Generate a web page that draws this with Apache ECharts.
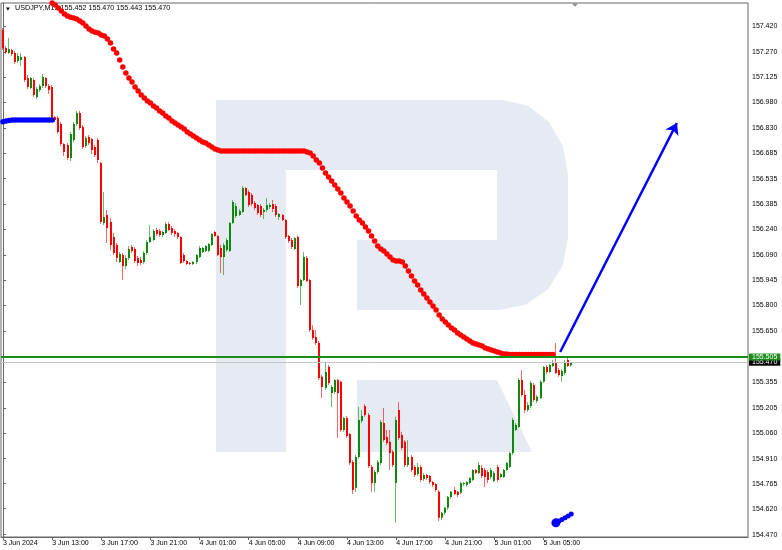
<!DOCTYPE html>
<html>
<head>
<meta charset="utf-8">
<script src="https://cdn.jsdelivr.net/npm/echarts@6.0.0/dist/echarts.min.js"></script>
<style>
html,body{margin:0;padding:0;background:#fff;}
#chart{width:782px;height:550px;}
</style>
</head>
<body>
<div id="chart"></div>
<script>
// ---------- data ----------
const symbolName = 'USDJPY,M15';

// x-axis tick bars (every 16 bars of M15 = 4 hours) and their labels
const xTickBars = [0, 16, 32, 48, 64, 80, 96, 112, 128, 144, 160, 176];
const xTickLabels = ['3 Jun 2024', '3 Jun 13:00', '3 Jun 17:00', '3 Jun 21:00', '4 Jun 01:00', '4 Jun 05:00',
                     '4 Jun 09:00', '4 Jun 13:00', '4 Jun 17:00', '4 Jun 21:00', '5 Jun 01:00', '5 Jun 05:00'];

// price scale tick labels
const yTickValues = [157.420, 157.270, 157.125, 156.980, 156.830, 156.685, 156.535, 156.385, 156.240, 156.090,
                     155.945, 155.800, 155.650, 155.355, 155.205, 155.060, 154.910, 154.765, 154.620, 154.470];

const barOpen = [
157.397,157.293,157.264,157.281,157.264,157.217,157.223,157.240,157.119,157.061,
157.107,157.008,157.049,157.072,157.119,157.072,157.066,156.892,156.887,156.852,
156.736,156.730,156.655,156.759,156.852,156.916,156.834,156.724,156.776,156.765,
156.718,156.759,156.626,156.278,156.324,156.283,156.196,156.150,156.051,156.092,
156.028,156.075,156.139,156.127,156.075,156.063,156.051,156.104,156.167,156.179,
156.237,156.231,156.208,156.220,156.272,156.249,156.231,156.220,156.196,156.092,
156.057,156.046,156.040,156.051,156.080,156.109,156.115,156.115,156.150,156.225,
156.202,156.133,156.080,156.121,156.115,156.278,156.318,156.324,156.341,156.481,
156.457,156.440,156.394,156.382,156.376,156.341,156.353,156.370,156.388,156.376,
156.312,156.324,156.295,156.202,156.179,156.127,156.196,155.912,155.947,156.075,
155.947,155.657,155.616,155.582,155.385,155.321,155.442,155.292,155.297,155.367,
155.356,155.077,155.147,155.054,154.891,154.741,154.920,155.129,155.216,155.164,
154.862,154.770,154.833,154.886,155.118,155.036,155.008,154.950,154.770,155.193,
155.048,155.008,154.874,154.920,154.862,154.822,154.862,154.793,154.816,154.810,
154.775,154.764,154.718,154.567,154.596,154.625,154.688,154.729,154.718,154.712,
154.764,154.758,154.770,154.787,154.845,154.828,154.857,154.845,154.833,154.804,
154.781,154.862,154.804,154.804,154.845,154.862,154.944,155.077,155.094,155.367,
155.280,155.193,155.216,155.338,155.245,155.263,155.356,155.442,155.413,155.448,
155.471,155.425,155.390,155.408,155.483,155.452];

const barHigh = [
157.409,157.304,157.351,157.287,157.275,157.264,157.264,157.246,157.136,157.124,
157.119,157.066,157.084,157.142,157.124,157.084,157.078,156.898,156.898,156.863,
156.742,156.742,156.805,156.863,156.927,156.927,156.846,156.782,156.788,156.771,
156.730,156.771,156.631,156.457,156.353,156.307,156.220,156.162,156.109,156.104,
156.092,156.144,156.150,156.139,156.086,156.080,156.115,156.179,156.266,156.243,
156.249,156.243,156.231,156.283,156.283,156.260,156.243,156.225,156.202,156.104,
156.063,156.051,156.057,156.098,156.144,156.139,156.150,156.162,156.220,156.231,
156.208,156.150,156.162,156.191,156.283,156.411,156.394,156.359,156.492,156.486,
156.469,156.452,156.405,156.388,156.388,156.365,156.423,156.394,156.411,156.388,
156.336,156.330,156.301,156.208,156.191,156.196,156.202,155.953,156.109,156.086,
155.953,155.686,155.657,155.593,155.396,155.466,155.454,155.338,155.373,155.373,
155.362,155.153,155.158,155.060,154.903,154.932,155.210,155.193,155.228,155.176,
154.874,154.845,154.903,155.135,155.205,155.077,155.077,154.961,155.153,155.239,
155.066,155.019,155.019,154.932,154.874,154.886,154.874,154.828,154.822,154.816,
154.781,154.770,154.729,154.601,154.630,154.694,154.723,154.746,154.723,154.775,
154.775,154.781,154.804,154.851,154.851,154.891,154.874,154.857,154.845,154.857,
154.839,154.874,154.828,154.851,154.891,154.950,155.147,155.118,155.379,155.425,
155.309,155.239,155.362,155.350,155.280,155.367,155.448,155.454,155.460,155.483,
155.582,155.437,155.431,155.483,155.506,155.470];

const barLow = [
157.281,157.258,157.258,157.246,157.200,157.206,157.188,157.095,157.055,157.055,
157.008,156.997,157.037,157.061,157.061,157.026,156.875,156.863,156.794,156.724,
156.666,156.643,156.637,156.747,156.840,156.817,156.707,156.713,156.730,156.678,
156.660,156.626,156.272,156.266,156.162,156.121,156.092,156.051,156.046,155.947,
156.011,156.063,156.104,156.046,156.028,156.034,156.040,156.092,156.162,156.173,
156.202,156.196,156.196,156.214,156.231,156.208,156.196,156.185,156.040,156.046,
156.034,156.034,156.034,156.040,156.075,156.104,156.109,156.109,156.144,156.196,
156.086,155.988,155.976,156.109,156.109,156.272,156.307,156.318,156.336,156.434,
156.370,156.376,156.353,156.324,156.312,156.301,156.341,156.359,156.341,156.312,
156.295,156.289,156.185,156.162,156.127,156.121,155.901,155.802,155.941,155.935,
155.645,155.599,155.570,155.367,155.263,155.309,155.338,155.210,155.286,155.031,
155.066,155.066,155.031,154.874,154.706,154.718,154.909,155.118,155.153,154.857,
154.718,154.718,154.822,154.874,155.008,154.990,154.845,154.862,154.538,155.019,
154.961,154.862,154.862,154.833,154.804,154.810,154.775,154.781,154.787,154.764,
154.746,154.718,154.549,154.555,154.584,154.613,154.677,154.700,154.688,154.706,
154.752,154.746,154.764,154.781,154.822,154.822,154.799,154.746,154.770,154.793,
154.775,154.775,154.799,154.799,154.839,154.857,154.932,155.071,155.089,155.269,
155.176,155.181,155.205,155.239,155.234,155.257,155.350,155.402,155.408,155.442,
155.402,155.385,155.356,155.396,155.442,155.443];

const barClose = [
157.293,157.269,157.287,157.258,157.211,157.246,157.240,157.107,157.066,157.119,
157.020,157.055,157.072,157.124,157.072,157.049,156.887,156.875,156.805,156.736,
156.689,156.655,156.794,156.852,156.916,156.829,156.718,156.771,156.742,156.701,
156.672,156.643,156.283,156.312,156.249,156.150,156.104,156.075,156.098,156.028,
156.075,156.127,156.115,156.057,156.046,156.046,156.104,156.167,156.196,156.231,
156.214,156.208,156.225,156.272,156.237,156.220,156.214,156.196,156.046,156.057,
156.040,156.040,156.051,156.092,156.133,156.133,156.144,156.156,156.214,156.202,
156.092,156.080,156.150,156.179,156.278,156.399,156.376,156.347,156.481,156.440,
156.382,156.388,156.365,156.336,156.324,156.353,156.382,156.382,156.359,156.324,
156.330,156.295,156.196,156.173,156.139,156.191,155.912,155.947,156.080,155.941,
155.657,155.611,155.582,155.379,155.326,155.413,155.350,155.326,155.367,155.292,
155.077,155.147,155.042,154.886,154.729,154.920,155.135,155.158,155.164,154.868,
154.770,154.833,154.891,155.123,155.019,155.002,154.944,154.874,155.135,155.031,
154.973,154.874,154.920,154.845,154.816,154.862,154.787,154.816,154.799,154.775,
154.758,154.729,154.567,154.596,154.625,154.688,154.718,154.706,154.700,154.770,
154.770,154.775,154.799,154.845,154.828,154.874,154.810,154.804,154.787,154.845,
154.828,154.787,154.822,154.845,154.886,154.944,155.135,155.106,155.367,155.280,
155.193,155.222,155.350,155.251,155.269,155.356,155.442,155.413,155.454,155.471,
155.408,155.396,155.419,155.471,155.448,155.470];

// Parabolic SAR dots
const sarBlueAFirstBar = 0;
const sarBlueA = [156.865, 156.870, 156.873, 156.875, 156.875, 156.875, 156.875, 156.875,
                  156.875, 156.875, 156.875, 156.875, 156.875, 156.875, 156.875, 156.875, 156.875];
const sarRedFirstBar = 16;
const sarRed = [
157.554,157.542,157.525,157.507,157.490,157.478,157.472,157.467,157.461,157.449,
157.438,157.420,157.403,157.391,157.385,157.380,157.368,157.362,157.345,157.322,
157.287,157.264,157.223,157.182,157.148,157.119,157.095,157.066,157.043,157.020,
157.003,156.985,156.974,156.956,156.945,156.927,156.916,156.898,156.887,156.869,
156.858,156.846,156.834,156.823,156.805,156.794,156.782,156.771,156.759,156.747,
156.742,156.730,156.718,156.707,156.701,
156.695,156.695,156.695,156.695,156.695,156.695,156.695,156.695,156.695,156.695,
156.695,156.695,156.695,156.695,156.695,156.695,156.695,156.695,156.695,156.695,
156.695,156.695,156.695,156.695,156.695,156.695,156.695,156.695,
156.689,156.684,156.666,156.643,156.626,156.597,156.568,156.545,156.521,156.498,
156.475,156.452,156.423,156.399,156.376,156.347,156.318,156.295,156.278,156.255,
156.231,156.202,156.173,156.144,156.127,156.115,156.098,156.080,156.063,156.057,
156.057,156.051,156.028,155.999,155.970,155.941,155.918,155.889,155.866,155.843,
155.820,155.796,155.773,155.744,155.721,155.703,155.686,155.669,155.657,155.640,
155.628,155.617,155.605,155.593,155.582,155.576,155.570,155.564,155.553,155.547,
155.541,155.535,155.529,155.524,155.518,155.518,
155.515,155.515,155.515,155.515,155.515,155.515,155.515,155.515,155.515,155.515,
155.515,155.515,155.515,155.515,155.515];
const sarBlueBFirstBar = 180;
const sarBlueB = [154.538, 154.549, 154.558, 154.567, 154.578, 154.590];

// horizontal levels and the forecast arrow (bar index, price)
const levelPrice = 155.505;
const bidPrice = 155.470;
const arrowFrom = [181.4, 155.529];
const arrowTo = [219.4, 156.858];

// ---------- chart ----------
const FONT = '"Liberation Sans", Arial, sans-serif';
const BULL = '#0b8a0b';
const BEAR = '#ff0000';
const WATERMARK = '#e5eaf3';

const candleData = barOpen.map((o, i) => [i, o, barHigh[i], barLow[i], barClose[i]]);
const redData = sarRed.map((v, k) => [sarRedFirstBar + k, v]);
const blueAData = sarBlueA.map((v, k) => [sarBlueAFirstBar + k, v]);
const blueBData = sarBlueB.map((v, k) => [sarBlueBFirstBar + k, v]);

const xLabelMap = {};
xTickBars.forEach((b, k) => { xLabelMap[b] = xTickLabels[k]; });

const last = barOpen.length - 1;
const header = symbolName + ' ' + barOpen[last].toFixed(3) + ' ' + barHigh[last].toFixed(3) + ' ' +
               barLow[last].toFixed(3) + ' ' + barClose[last].toFixed(3);

function renderCandle(params, api) {
  const i = api.value(0);
  const o = api.value(1), h = api.value(2), l = api.value(3), c = api.value(4);
  const pO = api.coord([i, o]);
  const pC = api.coord([i, c]);
  const pH = api.coord([i, h]);
  const pL = api.coord([i, l]);
  const cx = Math.round(pO[0]);
  const col = c >= o ? BULL : BEAR;
  const top = Math.min(pO[1], pC[1]);
  const hgt = Math.max(Math.abs(pO[1] - pC[1]), 1);
  return {
    type: 'group',
    children: [
      { type: 'rect', shape: { x: cx - 1, y: pH[1], width: 1, height: Math.max(pL[1] - pH[1], 1) },
        style: { fill: col, opacity: 0.6 } },
      { type: 'rect', shape: { x: cx - 1, y: top, width: 2, height: hgt }, style: { fill: col } }
    ]
  };
}

const chart = echarts.init(document.getElementById('chart'), null, { renderer: 'canvas' });

chart.setOption({
  animation: false,
  backgroundColor: '#ffffff',
  textStyle: { fontFamily: FONT },
  title: {
    text: header,
    left: 15, top: 5, padding: 0, z: 1,
    textStyle: { fontSize: 7.2, fontWeight: 'normal', color: '#000', fontFamily: FONT }
  },
  graphic: [
    // RoboForex-style watermark (decoration)
    { type: 'rect', z: 0, silent: true, shape: { x: 216, y: 100, width: 70, height: 352 }, style: { fill: WATERMARK } },
    { type: 'polygon', z: 0, silent: true,
      shape: { points: [[286, 100], [503, 100], [528, 105.7], [549, 122], [563, 146.3], [568, 175],
                        [568, 238], [562.8, 265.6], [548.1, 288.9], [526, 304.5], [500, 310],
                        [357, 310], [357, 240], [497, 240], [497, 170], [286, 170]] },
      style: { fill: WATERMARK } },
    { type: 'polygon', z: 0, silent: true, shape: { points: [[357, 380], [497, 380], [532, 452], [357, 452]] }, style: { fill: WATERMARK } },
    // small chart controls
    { type: 'polygon', z: 10, silent: true, shape: { points: [[6, 7.5], [9.8, 7.5], [7.9, 10.6]] }, style: { fill: '#000' } },
    { type: 'polygon', z: 10, silent: true, shape: { points: [[572, 3.5], [578, 3.5], [575, 6.8]] }, style: { fill: '#8c8c8c' } }
  ],
  grid: {
    left: 1, right: 34, top: 3, bottom: 13,
    show: true, borderColor: '#666666', borderWidth: 1, backgroundColor: 'transparent'
  },
  xAxis: {
    type: 'value',
    min: -0.65, max: 242.55,
    axisLine: { show: true, lineStyle: { color: '#666666', width: 1 } },
    axisTick: { show: true, length: 3, customValues: xTickBars, lineStyle: { color: '#666666' } },
    axisLabel: {
      customValues: xTickBars, align: 'left', margin: 3, fontSize: 7, color: '#000', fontFamily: FONT,
      formatter: v => xLabelMap[Math.round(v)] || ''
    },
    splitLine: { show: false }
  },
  yAxis: {
    type: 'value',
    position: 'right',
    min: 154.456, max: 157.554,
    axisLine: { show: true, lineStyle: { color: '#666666', width: 1 } },
    axisTick: { show: true, length: 3, customValues: yTickValues, lineStyle: { color: '#666666' } },
    axisLabel: {
      customValues: yTickValues, margin: 4, fontSize: 7, color: '#000', fontFamily: FONT,
      formatter: v => Number(v).toFixed(3)
    },
    splitLine: { show: false }
  },
  series: [
    {
      type: 'custom',
      name: 'candles',
      renderItem: renderCandle,
      data: candleData,
      dimensions: ['bar', 'open', 'high', 'low', 'close'],
      encode: { x: 0, y: [1, 2, 3, 4] },
      clip: true,
      z: 3,
      silent: true
    },
    {
      type: 'scatter',
      name: 'sarRed',
      data: redData,
      symbol: 'circle',
      symbolSize: 5.5,
      itemStyle: { color: '#ff0000', opacity: 1 },
      z: 4,
      silent: true
    },
    {
      type: 'scatter',
      name: 'sarBlueA',
      data: blueAData,
      symbol: 'circle',
      symbolSize: 5.5,
      itemStyle: { color: '#0000ff', opacity: 1 },
      z: 4,
      silent: true
    },
    {
      type: 'scatter',
      name: 'sarBlueB',
      data: blueBData,
      symbol: 'circle',
      symbolSize: (val, params) => params.dataIndex === 0 ? 9 : 5,
      itemStyle: { color: '#0000ff', opacity: 1 },
      z: 4,
      silent: true,
      markLine: {
        silent: true,
        animation: false,
        symbol: ['none', 'none'],
        data: [
          {
            yAxis: bidPrice,
            lineStyle: { color: '#c4c4c4', width: 1, type: 'solid' },
            label: {
              show: true, position: 'end', distance: 1, formatter: bidPrice.toFixed(3),
              color: '#ffffff', backgroundColor: '#000000', fontSize: 7, fontFamily: FONT,
              padding: [0, 3, 0, 3], lineHeight: 7
            }
          },
          {
            yAxis: levelPrice,
            lineStyle: { color: '#1a8c1a', width: 1.8, type: 'solid' },
            label: {
              show: true, position: 'end', distance: 1, formatter: levelPrice.toFixed(3),
              color: '#ffffff', backgroundColor: '#1a8c1a', fontSize: 7, fontFamily: FONT,
              padding: [0, 3, 0, 3], lineHeight: 7
            }
          }
        ]
      }
    },
    {
      type: 'scatter',
      name: 'arrow',
      data: [],
      silent: true,
      z: 5,
      markLine: {
        silent: true,
        animation: false,
        symbol: ['none', 'arrow'],
        symbolSize: 11,
        label: { show: false },
        lineStyle: { color: '#0000ff', width: 2.5, type: 'solid' },
        data: [[{ coord: arrowFrom }, { coord: arrowTo }]]
      }
    }
  ]
});
</script>
</body>
</html>
